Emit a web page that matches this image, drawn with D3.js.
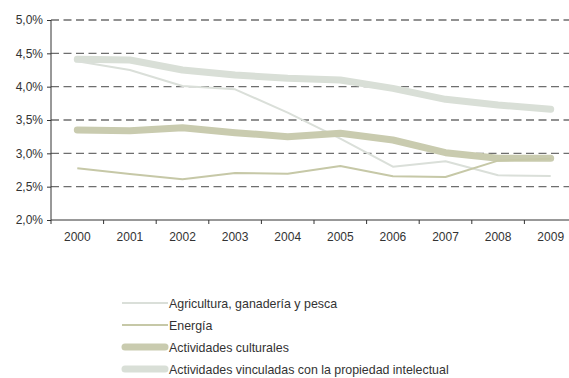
<!DOCTYPE html>
<html><head><meta charset="utf-8">
<script src="https://cdn.jsdelivr.net/npm/d3@7"></script>
<style>body{margin:0;background:#fff}svg{display:block}text{font-family:"Liberation Sans",Arial,sans-serif}</style>
</head><body><svg id="c" width="569" height="378"></svg>
<script>
const years = ["2000","2001","2002","2003","2004","2005","2006","2007","2008","2009"];
const agricultura = [4.38,4.25,4.01,3.96,3.61,3.22,2.80,2.88,2.67,2.66];
const energia = [2.775,2.69,2.61,2.705,2.695,2.81,2.655,2.645,2.89,2.92];
const culturales = [3.35,3.34,3.385,3.31,3.25,3.30,3.20,3.01,2.925,2.925];
const propiedad = [4.41,4.40,4.25,4.175,4.125,4.10,3.975,3.81,3.725,3.66];
const yTicks = [2.0,2.5,3.0,3.5,4.0,4.5,5.0];
const seriesNames = ["Agricultura, ganadería y pesca","Energía","Actividades culturales","Actividades vinculadas con la propiedad intelectual"];

const series = [
  {name: seriesNames[3], values: propiedad, color:"#d9dfd7", w:7},
  {name: seriesNames[0], values: agricultura, color:"#dadfd9", w:2},
  {name: seriesNames[2], values: culturales, color:"#c9cbaf", w:7},
  {name: seriesNames[1], values: energia, color:"#c6c8a7", w:2}
];
const legendOrder = [1,3,2,0];

const svg = d3.select("#c");
const x = d3.scaleBand().domain(years).range([51, 577]);
const y = d3.scaleLinear().domain([2,5]).range([220, 20]);
const fmt = v => d3.format(".1f")(v).replace(".", ",") + "%";

// grid
svg.append("g").selectAll("line").data(yTicks.filter(t => t > 2)).join("line")
  .attr("x1", 51).attr("x2", 569).attr("y1", d => y(d)).attr("y2", d => y(d))
  .attr("stroke", "#6e6e6e").attr("stroke-width", 1.3).attr("stroke-dasharray", "8,4.5");

// y axis
const ya = svg.append("g").attr("transform", "translate(51,0)")
  .call(d3.axisLeft(y).tickValues(yTicks).tickFormat(fmt).tickSize(4).tickPadding(4));
ya.select(".domain").attr("stroke", "#333").attr("d", "M0,20V220");
ya.selectAll(".tick line").attr("stroke", "#333");
ya.selectAll("text").attr("font-size", 12).attr("fill", "#333").attr("font-family", "Liberation Sans, Arial, sans-serif");

// x axis
const xa = svg.append("g").attr("transform", "translate(0,220)")
  .call(d3.axisBottom(x).tickSize(0).tickPadding(12));
xa.select(".domain").attr("stroke", "#333").attr("d", "M51,0H569");
xa.selectAll("text").attr("font-size", 12).attr("fill", "#333").attr("font-family", "Liberation Sans, Arial, sans-serif");
svg.append("g").selectAll("line").data(years).join("line")
  .attr("x1", d => x(d)).attr("x2", d => x(d)).attr("y1", 220).attr("y2", 224)
  .attr("stroke", "#333");

// lines
const line = d3.line().x((d,i) => x(years[i]) + x.bandwidth()/2).y(d => y(d));
svg.append("g").selectAll("path").data(series).join("path")
  .attr("d", d => line(d.values)).attr("fill", "none")
  .attr("stroke", d => d.color).attr("stroke-width", d => d.w)
  .attr("stroke-linecap", d => d.w > 3 ? "round" : "butt").attr("stroke-linejoin", "round");

// legend
const lg = svg.append("g");
legendOrder.forEach((si, k) => {
  const s = series[si];
  const yy = 303 + k * 22;
  lg.append("line").attr("x1", s.w > 3 ? 125 : 122).attr("x2", s.w > 3 ? 165 : 168)
    .attr("y1", yy).attr("y2", yy).attr("stroke", s.color).attr("stroke-width", s.w)
    .attr("stroke-linecap", s.w > 3 ? "round" : "butt");
  lg.append("text").attr("x", 169).attr("y", yy + 4.5).attr("font-size", 12.4).attr("fill", "#333").text(s.name);
});
</script></body></html>
